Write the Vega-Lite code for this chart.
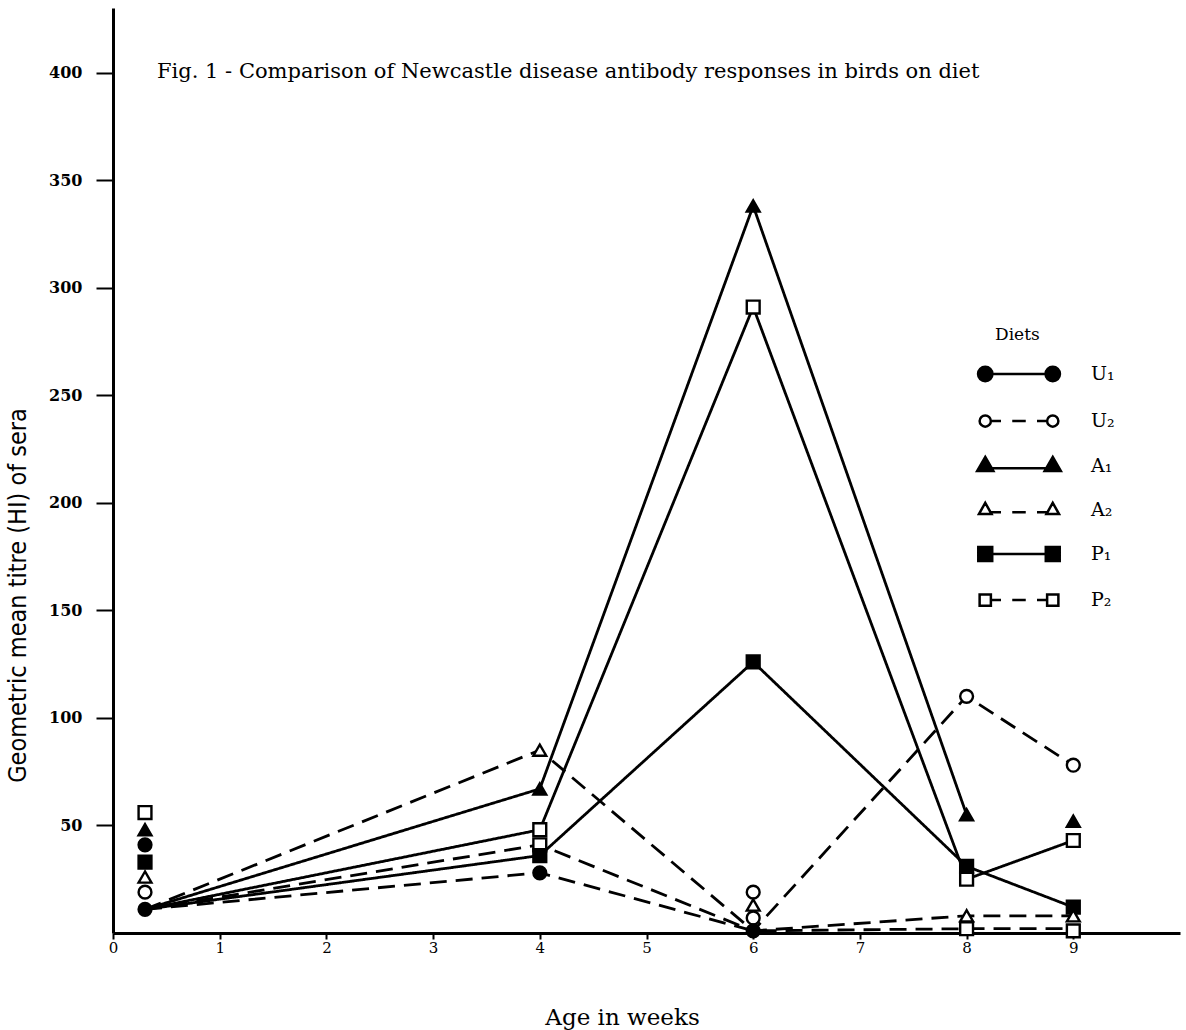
{
  "$schema": "https://vega.github.io/schema/vega-lite/v6.json",
  "width": 1067,
  "height": 925,
  "autosize": "none",
  "padding": {"left": 113, "top": 8, "right": 6, "bottom": 97},
  "background": "white",
  "title": {
    "text": "Fig. 1 - Comparison of Newcastle disease antibody responses in birds on diet",
    "anchor": "start",
    "frame": "group",
    "dx": 44,
    "dy": 78,
    "font": "DejaVu Serif",
    "fontSize": 21,
    "fontWeight": "normal",
    "color": "black"
  },
  "config": {
    "view": {"stroke": null},
    "axis": {"grid": false, "domainColor": "black", "tickColor": "black", "labelColor": "black", "titleColor": "black"}
  },
  "datasets": {
    "lines": [
      {"diet": "U1", "week": 0.3, "titre": 11}, {"diet": "U1", "week": 4, "titre": 28}, {"diet": "U1", "week": 6, "titre": 1}, {"diet": "U1", "week": 8, "titre": 2}, {"diet": "U1", "week": 9, "titre": 2},
      {"diet": "U2", "week": 0.3, "titre": 11}, {"diet": "U2", "week": 4, "titre": 41}, {"diet": "U2", "week": 6, "titre": 1}, {"diet": "U2", "week": 8, "titre": 110}, {"diet": "U2", "week": 9, "titre": 78},
      {"diet": "A1", "week": 0.3, "titre": 11}, {"diet": "A1", "week": 4, "titre": 67}, {"diet": "A1", "week": 6, "titre": 338}, {"diet": "A1", "week": 8, "titre": 55},
      {"diet": "A2", "week": 0.3, "titre": 11}, {"diet": "A2", "week": 4, "titre": 85}, {"diet": "A2", "week": 6, "titre": 1}, {"diet": "A2", "week": 8, "titre": 8}, {"diet": "A2", "week": 9, "titre": 8},
      {"diet": "P1", "week": 0.3, "titre": 11}, {"diet": "P1", "week": 4, "titre": 36}, {"diet": "P1", "week": 6, "titre": 126}, {"diet": "P1", "week": 8, "titre": 31}, {"diet": "P1", "week": 9, "titre": 12},
      {"diet": "P2", "week": 0.3, "titre": 11}, {"diet": "P2", "week": 4, "titre": 48}, {"diet": "P2", "week": 6, "titre": 291}, {"diet": "P2", "week": 8, "titre": 25}, {"diet": "P2", "week": 9, "titre": 43}
    ],
    "markers": [
      {"diet": "P2", "week": 0.3, "titre": 56}, {"diet": "A1", "week": 0.3, "titre": 48}, {"diet": "U1", "week": 0.3, "titre": 41}, {"diet": "P1", "week": 0.3, "titre": 33}, {"diet": "A2", "week": 0.3, "titre": 26}, {"diet": "U2", "week": 0.3, "titre": 19}, {"diet": "U1", "week": 0.3, "titre": 11},
      {"diet": "A2", "week": 4, "titre": 85}, {"diet": "A1", "week": 4, "titre": 67}, {"diet": "P2", "week": 4, "titre": 48}, {"diet": "P2", "week": 4, "titre": 41}, {"diet": "P1", "week": 4, "titre": 36}, {"diet": "U1", "week": 4, "titre": 28},
      {"diet": "A1", "week": 6, "titre": 338}, {"diet": "P2", "week": 6, "titre": 291}, {"diet": "P1", "week": 6, "titre": 126}, {"diet": "U2", "week": 6, "titre": 19}, {"diet": "A2", "week": 6, "titre": 13}, {"diet": "U2", "week": 6, "titre": 7}, {"diet": "U1", "week": 6, "titre": 1},
      {"diet": "U2", "week": 8, "titre": 110}, {"diet": "A1", "week": 8, "titre": 55}, {"diet": "P1", "week": 8, "titre": 31}, {"diet": "P2", "week": 8, "titre": 25}, {"diet": "A2", "week": 8, "titre": 8}, {"diet": "P2", "week": 8, "titre": 2},
      {"diet": "U2", "week": 9, "titre": 78}, {"diet": "A1", "week": 9, "titre": 52}, {"diet": "P2", "week": 9, "titre": 43}, {"diet": "P1", "week": 9, "titre": 12}, {"diet": "A2", "week": 9, "titre": 8}, {"diet": "P2", "week": 9, "titre": 1}
    ]
  },
  "encoding": {
    "x": {
      "field": "week", "type": "quantitative",
      "scale": {"domain": [0, 10], "nice": false, "zero": false},
      "axis": {
        "title": "Age in weeks", "values": [0, 1, 2, 3, 4, 5, 6, 7, 8, 9],
        "tickSize": 6, "tickWidth": 2, "domainWidth": 3, "labelPadding": 1,
        "labelFont": "DejaVu Serif", "labelFontSize": 15, "labelFlush": false,
        "titleFont": "DejaVu Serif", "titleFontSize": 23, "titleFontWeight": "normal",
        "titleX": 509, "titleY": 84, "titleBaseline": "middle"
      }
    },
    "y": {
      "field": "titre", "type": "quantitative",
      "scale": {"domain": [0, 430], "nice": false},
      "axis": {
        "title": "Geometric mean titre (HI) of sera", "values": [50, 100, 150, 200, 250, 300, 350, 400],
        "tickSize": 17, "tickWidth": 2, "domainWidth": 3, "labelPadding": 14,
        "labelFont": "DejaVu Serif", "labelFontSize": 16, "labelFontWeight": "bold",
        "titleFont": "DejaVu Sans Condensed, sans-serif", "titleFontSize": 25, "titleFontWeight": "normal",
        "titleX": -96, "titleY": 587, "titleBaseline": "middle"
      }
    }
  },
  "layer": [
    {
      "data": {"name": "lines"},
      "mark": {"type": "line", "color": "black", "strokeWidth": 2.8},
      "encoding": {
        "strokeDash": {
          "field": "diet", "type": "nominal",
          "scale": {"domain": ["U1", "U2", "A1", "A2", "P1", "P2"], "range": [[17, 9], [17, 9], [1, 0], [17, 9], [1, 0], [1, 0]]},
          "legend": null
        }
      }
    },
    {
      "data": {"name": "markers"},
      "mark": {"type": "point", "filled": true, "stroke": "black", "strokeWidth": 2.4, "size": 165, "opacity": 1},
      "encoding": {
        "shape": {
          "field": "diet", "type": "nominal",
          "scale": {"domain": ["U1", "U2", "A1", "A2", "P1", "P2"], "range": ["circle", "circle", "triangle-up", "triangle-up", "square", "square"]},
          "legend": null
        },
        "fill": {
          "field": "diet", "type": "nominal",
          "scale": {"domain": ["U1", "U2", "A1", "A2", "P1", "P2"], "range": ["black", "white", "black", "white", "black", "white"]},
          "legend": null
        }
      }
    },
    {
      "data": {"name": "markers"},
      "mark": {"type": "point", "filled": true, "strokeWidth": 2.5, "opacity": 0},
      "encoding": {
        "shape": {
          "field": "diet", "type": "nominal",
          "scale": {
            "domain": ["U1", "U2", "A1", "A2", "P1", "P2"],
            "range": [
              "M-1.82,0A0.32,0.32 0 1,0 -1.18,0A0.32,0.32 0 1,0 -1.82,0Z M1.18,0A0.32,0.32 0 1,0 1.82,0A0.32,0.32 0 1,0 1.18,0Z M-1.18,0L1.18,0",
              "M-1.75,0A0.25,0.25 0 1,0 -1.25,0A0.25,0.25 0 1,0 -1.75,0Z M1.25,0A0.25,0.25 0 1,0 1.75,0A0.25,0.25 0 1,0 1.25,0Z M-1.25,0L-0.8,0 M-0.3,0L0.3,0 M0.8,0L1.25,0",
              "M-1.5,-0.4L-1.14,0.22L-1.86,0.22Z M1.5,-0.4L1.86,0.22L1.14,0.22Z M-1.2,0.1L1.2,0.1",
              "M-1.5,-0.32L-1.22,0.18L-1.78,0.18Z M1.5,-0.32L1.78,0.18L1.22,0.18Z M-1.24,0.1L-0.8,0.1 M-0.3,0.1L0.3,0.1 M0.8,0.1L1.24,0.1",
              "M-1.81,-0.31L-1.19,-0.31L-1.19,0.31L-1.81,0.31Z M1.19,-0.31L1.81,-0.31L1.81,0.31L1.19,0.31Z M-1.19,0L1.19,0",
              "M-1.75,-0.25L-1.25,-0.25L-1.25,0.25L-1.75,0.25Z M1.25,-0.25L1.75,-0.25L1.75,0.25L1.25,0.25Z M-1.25,0L-0.8,0 M-0.3,0L0.3,0 M0.8,0L1.25,0"
            ]
          },
          "legend": {
            "orient": "none", "legendX": 882, "legendY": 319, "title": "Diets",
            "titleFont": "DejaVu Serif", "titleFontSize": 17, "titleFontWeight": "normal", "titleColor": "black", "titlePadding": 6,
            "labelFont": "DejaVu Serif", "labelFontSize": 19, "labelColor": "black", "labelOffset": 48,
            "labelExpr": "replace(replace(datum.label, '1', '₁'), '2', '₂')",
            "symbolSize": 2025, "symbolStrokeWidth": 2.5, "symbolOpacity": 1, "rowPadding": 10
          }
        },
        "fill": {
          "field": "diet", "type": "nominal",
          "scale": {"domain": ["U1", "U2", "A1", "A2", "P1", "P2"], "range": ["black", "white", "black", "white", "black", "white"]},
          "legend": {
            "orient": "none", "legendX": 882, "legendY": 319, "title": "Diets",
            "titleFont": "DejaVu Serif", "titleFontSize": 17, "titleFontWeight": "normal", "titleColor": "black", "titlePadding": 6,
            "labelFont": "DejaVu Serif", "labelFontSize": 19, "labelColor": "black", "labelOffset": 48,
            "labelExpr": "replace(replace(datum.label, '1', '₁'), '2', '₂')",
            "symbolSize": 2025, "symbolStrokeWidth": 2.5, "symbolOpacity": 1, "rowPadding": 10
          }
        },
        "stroke": {
          "field": "diet", "type": "nominal",
          "scale": {"domain": ["U1", "U2", "A1", "A2", "P1", "P2"], "range": ["black", "black", "black", "black", "black", "black"]},
          "legend": {
            "orient": "none", "legendX": 882, "legendY": 319, "title": "Diets",
            "titleFont": "DejaVu Serif", "titleFontSize": 17, "titleFontWeight": "normal", "titleColor": "black", "titlePadding": 6,
            "labelFont": "DejaVu Serif", "labelFontSize": 19, "labelColor": "black", "labelOffset": 48,
            "labelExpr": "replace(replace(datum.label, '1', '₁'), '2', '₂')",
            "symbolSize": 2025, "symbolStrokeWidth": 2.5, "symbolOpacity": 1, "rowPadding": 10
          }
        }
      }
    }
  ],
  "resolve": {"scale": {"shape": "independent", "fill": "independent", "stroke": "independent"}}
}
